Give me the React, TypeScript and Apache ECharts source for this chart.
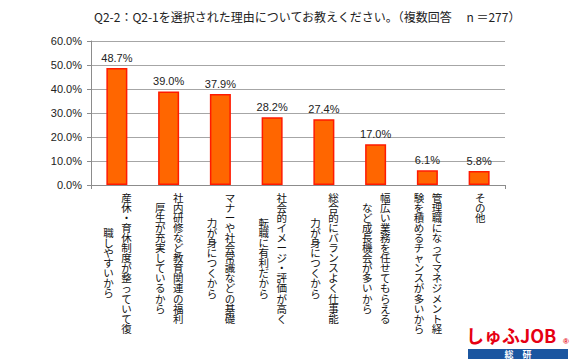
import React, { useEffect, useRef } from "react";
import * as echarts from "echarts";

const titleText = "Q2-2：Q2-1を選択された理由についてお教えください。（複数回答　 n ＝277）";

const labelColumns: string[][] = [
  ["産休・育休制度が整っていて復", "職しやすいから"],
  ["社内研修など教育関連の福利", "厚生が充実しているから"],
  ["マナーや社会常識などの基礎", "力が身につくから"],
  ["社会的イメージ・評価が高く", "転職に有利だから"],
  ["総合的にバランスよく仕事能", "力が身につくから"],
  ["幅広い業務を任せてもらえる", "など成長機会が多いから"],
  ["管理職になってマネジメント経", "験を積めるチャンスが多いから"],
  ["その他"],
];

const categories = labelColumns.map((c) => c.join(""));
const values = [48.7, 39.0, 37.9, 28.2, 27.4, 17.0, 6.1, 5.8];
const yMin = 0;
const yMax = 60;
const yInterval = 10;

const logoText = "しゅふJOB";
const logoMark = "®";
const logoSub = "総　研";

export default function App() {
  const ref = useRef<HTMLDivElement>(null);
  useEffect(() => {
    if (!ref.current) return;
    const chart = echarts.init(ref.current, undefined, { renderer: "svg" });
    const jp = '"Noto Sans CJK JP", sans-serif';
    const latin = '"Liberation Sans", Arial, sans-serif';
    chart.setOption({
      animation: false,
      backgroundColor: "#fff",
      title: {
        text: titleText,
        left: 89,
        top: 5,
        textStyle: { fontSize: 12, fontWeight: "normal", color: "#222", fontFamily: jp },
      },
      grid: { left: 91, right: 65, top: 41, bottom: 175, containLabel: false },
      xAxis: {
        type: "category",
        data: categories,
        axisLine: { lineStyle: { color: "#8c8c8c", width: 1 } },
        axisTick: { show: true, length: 4, lineStyle: { color: "#8c8c8c" } },
        axisLabel: { show: false },
      },
      yAxis: {
        type: "value",
        min: yMin,
        max: yMax,
        interval: yInterval,
        axisLine: { show: true, lineStyle: { color: "#8c8c8c" } },
        axisTick: { show: true, length: 4, lineStyle: { color: "#8c8c8c" } },
        splitLine: { lineStyle: { color: "#a6a6a6", width: 1 } },
        axisLabel: {
          margin: 9,
          fontSize: 11,
          color: "#222",
          fontFamily: latin,
          formatter: (v: number) => v.toFixed(1) + "%",
        },
      },
      series: [
        {
          type: "bar",
          data: values,
          barWidth: 21,
          itemStyle: { color: "#FF6600", borderColor: "#FF1A00", borderWidth: 1.5 },
          label: {
            show: true,
            position: "top",
            distance: 5,
            fontSize: 11,
            color: "#222",
            fontFamily: latin,
            formatter: (p: any) => Number(p.value).toFixed(1) + "%",
          },
        },
      ],
    });

    const y0 = chart.convertToPixel({ yAxisIndex: 0 }, 0) as number;
    const pitch = 10.1;
    const elements: any[] = [];
    labelColumns.forEach((cols, i) => {
      const cx = chart.convertToPixel({ xAxisIndex: 0 }, categories[i]) as number;
      const maxLen = Math.max(...cols.map((c) => [...c].length));
      cols.forEach((col, j) => {
        const len = [...col].length;
        const dx = cols.length === 1 ? 1 : j === 0 ? 9.5 : -8.5;
        elements.push({
          type: "text",
          x: cx + dx,
          y: y0 + 7 + ((maxLen - len) * pitch) / 2,
          style: {
            text: [...col].join("\n"),
            fontSize: 10.5,
            fontFamily: jp,
            fill: "#111",
            align: "center",
            verticalAlign: "top",
            lineHeight: pitch,
          },
        });
      });
    });
    elements.push(
      {
        type: "text",
        x: 466,
        y: 326,
        style: {
          text: logoText,
          fontSize: 18,
          fontWeight: "bold",
          fontFamily: jp,
          fill: "#E60012",
          align: "left",
          verticalAlign: "top",
        },
      },
      {
        type: "text",
        x: 566,
        y: 341,
        style: {
          text: logoMark,
          fontSize: 8,
          fontWeight: "bold",
          fontFamily: latin,
          fill: "#E60012",
          align: "center",
          verticalAlign: "middle",
        },
      },
      {
        type: "rect",
        shape: { x: 468, y: 349, width: 100, height: 10 },
        style: { fill: "#1B56A0" },
      },
      {
        type: "text",
        x: 518,
        y: 354,
        style: {
          text: logoSub,
          fontSize: 9,
          fontWeight: "bold",
          fontFamily: jp,
          fill: "#fff",
          align: "center",
          verticalAlign: "middle",
        },
      }
    );
    chart.setOption({ graphic: { elements } });
    return () => chart.dispose();
  }, []);
  return <div ref={ref} style={{ width: 570, height: 360, position: "absolute", left: 0, top: 0 }} />;
}
